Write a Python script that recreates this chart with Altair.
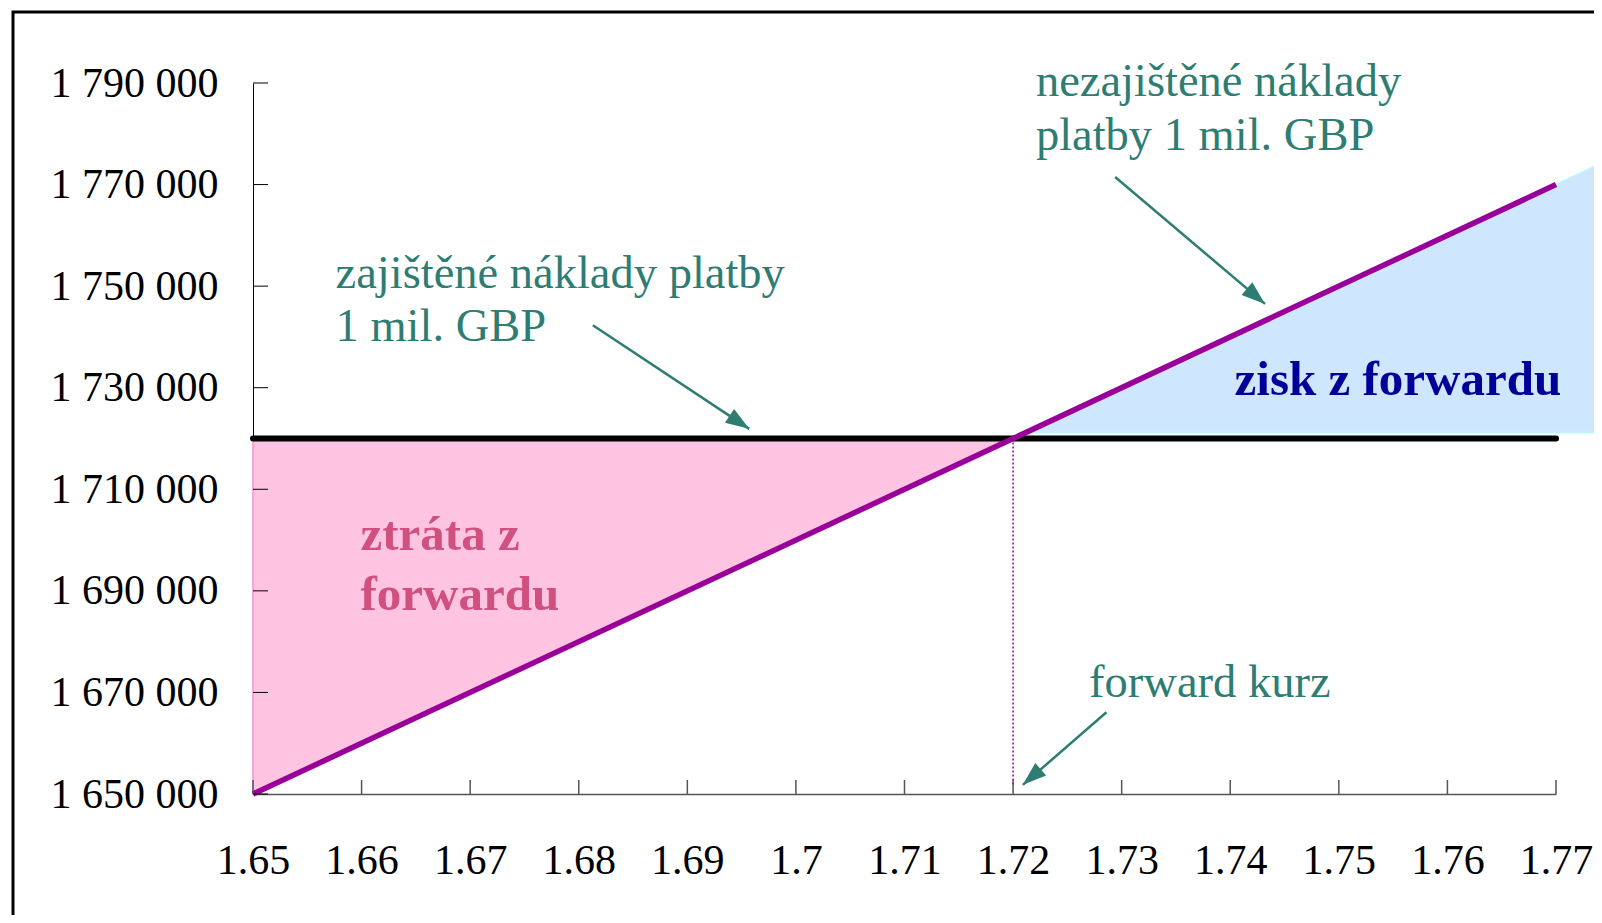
import math
import altair as alt
import pandas as pd

# ---------------- data ----------------
rates = [1.65, 1.72, 1.77]
unhedged_cost = [1650000, 1720000, 1770000]
hedged_cost = 1720000
forward_rate = 1.72
edge_rate = 1.7743
edge_cost = 1774300
gain_start_rate = 1.721
gain_base = 1721200

x_ticks = [1.65, 1.66, 1.67, 1.68, 1.69, 1.70, 1.71, 1.72, 1.73, 1.74, 1.75, 1.76, 1.77]
y_ticks = [1650000, 1670000, 1690000, 1710000, 1730000, 1750000, 1770000, 1790000]

teal_texts = ["zajištěné náklady platby", "1 mil. GBP", "nezajištěné náklady",
              "platby 1 mil. GBP", "forward kurz"]
teal_x = [1.6576, 1.6576, 1.7221, 1.7221, 1.7270]
teal_y = [1752400, 1741900, 1790200, 1779500, 1671900]

gain_text = ["zisk z forwardu"]
gain_x = [1.7404]
gain_y = [1731500]

loss_texts = ["ztráta z", "forwardu"]
loss_x = [1.6599, 1.6599]
loss_y = [1701000, 1689200]

arrow_x1 = [1.6813, 1.7294, 1.7286]
arrow_y1 = [1742300, 1771500, 1666100]
arrow_x2 = [1.6957, 1.7432, 1.7209]
arrow_y2 = [1721900, 1746500, 1651800]

# ---------------- layout ----------------
W, H = 1303, 711
X_DOM = [1.65, 1.77]
Y_DOM = [1650000, 1790000]
FONT = "Liberation Serif"
TEAL = "#2E7D72"
PURPLE = "#990099"

xs = alt.Scale(domain=X_DOM, nice=False, zero=False)
ys = alt.Scale(domain=Y_DOM, nice=False, zero=False)

x_axis = alt.Axis(values=x_ticks, format=".3~g", ticks=False, tickSize=0, labelPadding=46,
                  domainColor="#555555", domainWidth=1.5, grid=False, labelFont=FONT,
                  labelFontSize=42, labelColor="black", labelFlush=False, labelOverlap=False)
y_axis = alt.Axis(values=y_ticks,
                  labelExpr="replace(format(datum.value, ','), regexp(',', 'g'), ' ')",
                  ticks=False, tickSize=0, labelPadding=35, domainColor="black", domainWidth=1,
                  grid=False, labelFont=FONT, labelFontSize=42, labelColor="black",
                  labelFlush=False, labelOverlap=False)

X = alt.X("rate:Q", scale=xs, axis=x_axis, title=None)
Y = alt.Y("cost:Q", scale=ys, axis=y_axis, title=None)

line_df = pd.DataFrame({"rate": rates, "cost": unhedged_cost})
hedged_df = pd.DataFrame({"rate": [rates[0], rates[-1]], "cost": [hedged_cost, hedged_cost]})
loss_df = pd.DataFrame({"rate": rates[:2], "cost": unhedged_cost[:2],
                        "base": [hedged_cost, hedged_cost]})
gain_df = pd.DataFrame({"rate": [gain_start_rate, edge_rate],
                        "cost": [gain_base, edge_cost], "base": [gain_base, gain_base]})
fwd_df = pd.DataFrame({"rate": [forward_rate], "cost": [hedged_cost], "base": [1651500]})

loss_area = alt.Chart(loss_df).mark_area(color="#FFC4E2", stroke="#FF8FC8", strokeWidth=1.5).encode(
    x=X, y=Y, y2="base:Q")
gain_area = alt.Chart(gain_df).mark_area(color="#CFE6FF", stroke="#BFF4FF", strokeWidth=2).encode(
    x=X, y=Y, y2="base:Q")
fwd_rule = alt.Chart(fwd_df).mark_rule(color=PURPLE, strokeWidth=1.5, strokeDash=[2, 2]).encode(
    x=X, y=Y, y2="base:Q")
hedged_line = alt.Chart(hedged_df).mark_line(color="black", strokeWidth=6, strokeCap="round").encode(
    x=X, y=Y)
unhedged_line = alt.Chart(line_df).mark_line(color=PURPLE, strokeWidth=5.5).encode(x=X, y=Y)

# arrows
px_x = W / (X_DOM[1] - X_DOM[0])
px_y = H / (Y_DOM[1] - Y_DOM[0])
angles = []
for a, b, c, d in zip(arrow_x1, arrow_y1, arrow_x2, arrow_y2):
    dx = (c - a) * px_x
    dy_down = -(d - b) * px_y
    angles.append(math.degrees(math.atan2(dx, -dy_down)) % 360)
arrow_df = pd.DataFrame({"rate": arrow_x1, "cost": arrow_y1, "rate2": arrow_x2,
                         "cost2": arrow_y2, "angle": angles})
arrow_shaft = alt.Chart(arrow_df).mark_rule(color=TEAL, strokeWidth=2.5).encode(
    x=X, y=Y, x2="rate2:Q", y2="cost2:Q")
arrow_head = alt.Chart(arrow_df).mark_point(
    shape="M0,0L-0.7,2L0.7,2Z", filled=True, color=TEAL, opacity=1, size=560).encode(
    x=alt.X("rate2:Q", scale=xs, axis=x_axis, title=None),
    y=alt.Y("cost2:Q", scale=ys, axis=y_axis, title=None),
    angle=alt.Angle("angle:Q", scale=None))

teal_df = pd.DataFrame({"rate": teal_x, "cost": teal_y, "t": teal_texts})
teal_text = alt.Chart(teal_df).mark_text(align="left", baseline="middle", font=FONT,
                                         fontSize=46.5, color=TEAL).encode(x=X, y=Y, text="t:N")
gain_df_t = pd.DataFrame({"rate": gain_x, "cost": gain_y, "t": gain_text})
gain_txt = alt.Chart(gain_df_t).mark_text(align="left", baseline="middle", font=FONT,
                                          fontSize=49, fontWeight="bold", color="#000099").encode(
    x=X, y=Y, text="t:N")
loss_df_t = pd.DataFrame({"rate": loss_x, "cost": loss_y, "t": loss_texts})
loss_txt = alt.Chart(loss_df_t).mark_text(align="left", baseline="middle", font=FONT,
                                          fontSize=49, fontWeight="bold", color="#D0507F").encode(
    x=X, y=Y, text="t:N")

ytick_df = pd.DataFrame({"cost": y_ticks})
ytick = alt.Chart(ytick_df).mark_rule(color="black", strokeWidth=1).encode(
    y=Y, x=alt.value(0), x2=alt.value(15))
xtick_df = pd.DataFrame({"rate": x_ticks})
xtick = alt.Chart(xtick_df).mark_rule(color="#555555", strokeWidth=1.5).encode(
    x=X, y=alt.value(H - 14), y2=alt.value(H))

frame = alt.Chart(pd.DataFrame({"a": [0]})).mark_rect(
    fillOpacity=0, stroke="black", strokeWidth=3).encode(
    x=alt.value(-240), x2=alt.value(1400), y=alt.value(-71), y2=alt.value(H + 300))

chart = alt.layer(
    loss_area, gain_area, fwd_rule, hedged_line, unhedged_line,
    arrow_shaft, arrow_head, teal_text, gain_txt, loss_txt, ytick, xtick, frame
).properties(
    width=W, height=H,
    autosize=alt.AutoSizeParams(type="none"),
    padding={"left": 245, "top": 75, "right": 38, "bottom": 121},
).configure_view(stroke=None)

chart.save("out.html", embed_options={"renderer": "svg", "actions": False})
